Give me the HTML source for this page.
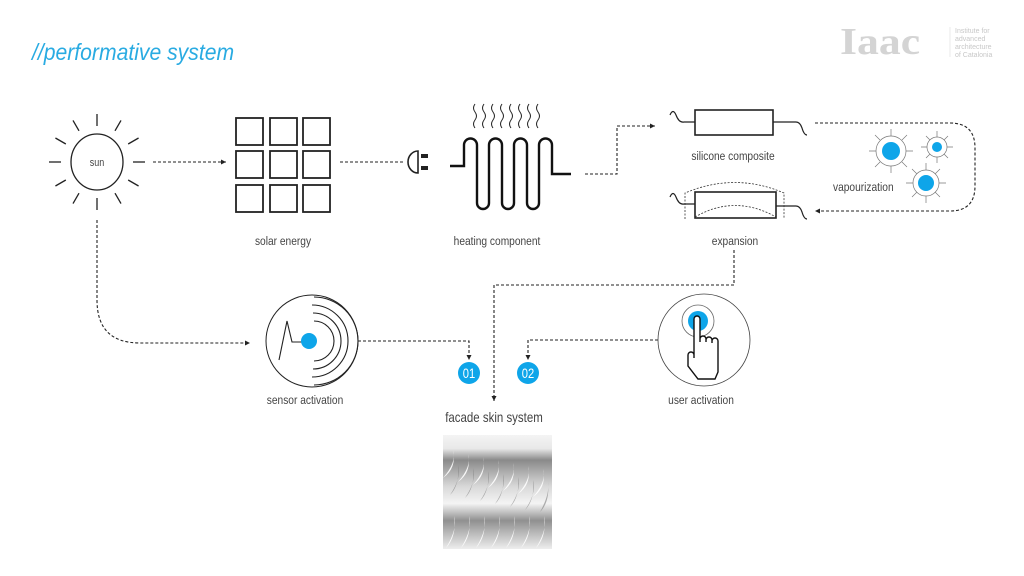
<!DOCTYPE html>
<html><head><meta charset="utf-8"><style>
html,body{margin:0;padding:0;background:#fff;width:1024px;height:576px;overflow:hidden}
svg{display:block}
text{font-family:"Liberation Sans",sans-serif;fill:#444}
</style></head><body>
<svg width="1024" height="576" viewBox="0 0 1024 576" xmlns="http://www.w3.org/2000/svg">
<defs>
<marker id="ah" markerWidth="6" markerHeight="6" refX="5" refY="3" orient="auto" markerUnits="userSpaceOnUse"><path d="M0,0.5 L5,3 L0,5.5z" fill="#222"/></marker>
<linearGradient id="g1" x1="0" y1="0" x2="0" y2="1">
<stop offset="0" stop-color="#f4f4f4"/><stop offset="0.12" stop-color="#e8e8e8"/><stop offset="0.22" stop-color="#8a8a8a"/><stop offset="0.45" stop-color="#d8d8d8"/><stop offset="0.6" stop-color="#f4f4f4"/><stop offset="0.68" stop-color="#c0c0c0"/><stop offset="0.75" stop-color="#909090"/><stop offset="1" stop-color="#eeeeee"/>
</linearGradient>
</defs>

<!-- title -->
<g transform="translate(32,60) scale(0.92,1)"><text x="0" y="0" style="font-size:23px;fill:#29abe2;font-style:italic">//performative system</text></g>

<!-- logo -->
<g transform="translate(840,54) scale(1.15,1)"><text x="0" y="0" style="font-family:'Liberation Serif',serif;font-size:38px;font-weight:bold;fill:#d4d4d4;letter-spacing:0px">Iaac</text></g>
<line x1="950" y1="27" x2="950" y2="57" stroke="#ddd" stroke-width="0.6"/>
<g style="font-size:7px">
<text x="955" y="33" style="fill:#c8c8c8">Institute for</text>
<text x="955" y="41" style="fill:#c8c8c8">advanced</text>
<text x="955" y="49" style="fill:#c8c8c8">architecture</text>
<text x="955" y="57" style="fill:#c8c8c8">of Catalonia</text>
</g>

<!-- sun -->
<ellipse cx="97" cy="162" rx="26" ry="28" fill="none" stroke="#222" stroke-width="1.3"/>
<g transform="translate(97,166) scale(0.82,1)"><text text-anchor="middle" style="font-size:11px">sun</text></g>
<g stroke="#222" stroke-width="1.3" transform="translate(97,162)">
<line x1="36" y1="0" x2="48" y2="0"/><line x1="-36" y1="0" x2="-48" y2="0"/>
<line x1="0" y1="-36" x2="0" y2="-48"/><line x1="0" y1="36" x2="0" y2="48"/>
<g transform="rotate(30)"><line x1="36" y1="0" x2="48" y2="0"/><line x1="-36" y1="0" x2="-48" y2="0"/><line x1="0" y1="-36" x2="0" y2="-48"/><line x1="0" y1="36" x2="0" y2="48"/></g>
<g transform="rotate(60)"><line x1="36" y1="0" x2="48" y2="0"/><line x1="-36" y1="0" x2="-48" y2="0"/><line x1="0" y1="-36" x2="0" y2="-48"/><line x1="0" y1="36" x2="0" y2="48"/></g>
</g>

<g fill="none" stroke="#222" stroke-width="1.1" stroke-dasharray="3,2">
<line x1="153" y1="162" x2="226" y2="162" marker-end="url(#ah)"/>
<line x1="340" y1="162" x2="403" y2="162"/>
<path d="M585,174 H617 V126 H655" marker-end="url(#ah)"/>
<path d="M815,123 H950 Q975,123 975,148 V186 Q975,211 950,211 H815" marker-end="url(#ah)"/>
<path d="M97,220 V300 Q97,343 140,343 H250" marker-end="url(#ah)"/>
<path d="M734,250 V285 H494 V401" marker-end="url(#ah)"/>
<path d="M358,341 H469 V360" marker-end="url(#ah)"/>
<path d="M658,340 H528 V360" marker-end="url(#ah)"/>
</g>

<!-- solar grid -->
<g fill="none" stroke="#222" stroke-width="1.8">
<rect x="236" y="118" width="27" height="27"/><rect x="270" y="118" width="27" height="27"/><rect x="303" y="118" width="27" height="27"/>
<rect x="236" y="151" width="27" height="27"/><rect x="270" y="151" width="27" height="27"/><rect x="303" y="151" width="27" height="27"/>
<rect x="236" y="185" width="27" height="27"/><rect x="270" y="185" width="27" height="27"/><rect x="303" y="185" width="27" height="27"/>
</g>
<g transform="translate(283,245) scale(0.85,1)"><text text-anchor="middle" style="font-size:12px">solar energy</text></g>

<!-- plug -->
<path d="M418,151 A10,11 0 0 0 418,173 Z" fill="none" stroke="#222" stroke-width="1.6"/>
<rect x="421" y="154" width="7" height="4" fill="#222"/><rect x="421" y="166" width="7" height="4" fill="#222"/>

<!-- heating coil -->
<path d="M450,166 H464 V145 A6.5,6.5 0 0 1 477,145 V203 A6,6 0 0 0 489,203 V145 A6.5,6.5 0 0 1 502,145 V203 A6,6 0 0 0 514,203 V145 A6.5,6.5 0 0 1 527,145 V203 A6,6 0 0 0 539,203 V145 A6.5,6.5 0 0 1 552,145 V174 H571" fill="none" stroke="#111" stroke-width="2.4"/>
<g fill="none" stroke="#222" stroke-width="1">
<path id="w" d="M475,104 q-3,4 0,8 q3,4 0,8 q-3,4 0,8"/>
<use href="#w" x="9"/><use href="#w" x="18"/><use href="#w" x="27"/><use href="#w" x="36"/><use href="#w" x="45"/><use href="#w" x="54"/><use href="#w" x="63"/>
</g>
<g transform="translate(497,245) scale(0.85,1)"><text text-anchor="middle" style="font-size:12px">heating component</text></g>

<!-- silicone -->
<rect x="695" y="110" width="78" height="25" fill="none" stroke="#222" stroke-width="1.6"/>
<path d="M670,115 q3,-7 6,0 q3,8 8,7 H695 M773,122 H796 q4,0 6,6 q2,7 5,7" fill="none" stroke="#222" stroke-width="1.2"/>
<g transform="translate(733,160) scale(0.85,1)"><text text-anchor="middle" style="font-size:12px">silicone composite</text></g>

<!-- expansion -->
<rect x="695" y="192" width="81" height="26" fill="none" stroke="#222" stroke-width="1.6"/>
<path d="M670,197 q3,-7 6,0 q3,8 8,7 H695 M776,206 H796 q4,0 6,6 q2,7 5,7" fill="none" stroke="#222" stroke-width="1.2"/>
<g fill="none" stroke="#333" stroke-width="0.8" stroke-dasharray="2,1.5">
<path d="M685,219 V193 Q735,172 784,193 V219"/>
<path d="M695,217 Q735,194 776,217"/>
</g>
<g transform="translate(735,245) scale(0.85,1)"><text text-anchor="middle" style="font-size:12px">expansion</text></g>

<!-- vapourization -->
<g stroke="#777" stroke-width="0.7" fill="none">
<circle cx="891" cy="151" r="15"/><circle cx="937" cy="147" r="10"/><circle cx="926" cy="183" r="13"/>
<g transform="translate(891,151)"><path d="M0,-15V-22M0,15V22M15,0H22M-15,0H-22M11,-11L16,-16M-11,-11L-16,-16M11,11L16,16M-11,11L-16,16"/></g>
<g transform="translate(937,147)"><path d="M0,-10V-16M0,10V16M10,0H16M-10,0H-16M7,-7L11,-11M-7,-7L-11,-11M7,7L11,11M-7,7L-11,11"/></g>
<g transform="translate(926,183)"><path d="M0,-13V-20M0,13V20M13,0H20M-13,0H-20M9,-9L14,-14M-9,-9L-14,-14M9,9L14,14M-9,9L-14,14"/></g>
</g>
<circle cx="891" cy="151" r="9" fill="#0ea5e9"/><circle cx="937" cy="147" r="5" fill="#0ea5e9"/><circle cx="926" cy="183" r="8" fill="#0ea5e9"/>
<g transform="translate(833,191) scale(0.85,1)"><text style="font-size:12px">vapourization</text></g>

<!-- sensor -->
<circle cx="312" cy="341" r="46" fill="none" stroke="#222" stroke-width="1"/>
<g fill="none" stroke="#222" stroke-width="1.1">
<path d="M279,360 L287,321 L292,342 H309"/>
<path d="M314,321 A20,20 0 0 1 314,361"/>
<path d="M313,313 A28,28 0 0 1 313,369"/>
<path d="M312,305 A36,36 0 0 1 312,377"/>
<path d="M314,297 A44,44 0 0 1 314,385"/>
</g>
<circle cx="309" cy="341" r="8" fill="#0ea5e9"/>
<g transform="translate(305,404) scale(0.85,1)"><text text-anchor="middle" style="font-size:12px">sensor activation</text></g>

<!-- badges -->
<circle cx="469" cy="373" r="11" fill="#0ea5e9"/><g transform="translate(469,378) scale(0.8,1)"><text text-anchor="middle" style="font-size:14px;fill:#fff">01</text></g>
<circle cx="528" cy="373" r="11" fill="#0ea5e9"/><g transform="translate(528,378) scale(0.8,1)"><text text-anchor="middle" style="font-size:14px;fill:#fff">02</text></g>

<!-- user -->
<circle cx="704" cy="340" r="46" fill="none" stroke="#444" stroke-width="0.8"/>
<circle cx="698" cy="321" r="16" fill="none" stroke="#666" stroke-width="0.8"/>
<circle cx="698" cy="321" r="10" fill="#0ea5e9"/>
<path d="M694,358 V319 a3,3 0 0 1 6,0 V342 V339 a3,3 0 0 1 6,0 V342 V340 a3,3 0 0 1 6,0 V343 V341 a3,3 0 0 1 6,0 V372 L715,379 H698 L688,366 V355 a3,3 0 0 1 6,0" fill="#fff" stroke="#111" stroke-width="1.4"/>
<g transform="translate(701,404) scale(0.85,1)"><text text-anchor="middle" style="font-size:12px">user activation</text></g>

<g transform="translate(494,422) scale(0.82,1)"><text text-anchor="middle" style="font-size:14px">facade skin system</text></g>

<!-- facade image -->
<rect x="443" y="435" width="109" height="114" fill="url(#g1)"/>
<g fill="#ffffff" opacity="0.9">
<path d="M443,478 q14,-16 10,-28 q4,18 -10,28z"/><path d="M458,482 q14,-16 10,-28 q4,18 -10,28z"/><path d="M473,485 q14,-16 10,-28 q4,18 -10,28z"/><path d="M488,488 q14,-16 10,-28 q4,18 -10,28z"/><path d="M503,491 q14,-16 10,-28 q4,18 -10,28z"/><path d="M518,494 q14,-16 10,-28 q4,18 -10,28z"/><path d="M533,497 q14,-16 10,-28 q4,18 -10,28z"/>
<path d="M446,548 q12,-20 8,-32 q3,20 -8,32z"/><path d="M461,548 q12,-20 8,-32 q3,20 -8,32z"/><path d="M476,548 q12,-20 8,-32 q3,20 -8,32z"/><path d="M491,548 q12,-20 8,-32 q3,20 -8,32z"/><path d="M506,548 q12,-20 8,-32 q3,20 -8,32z"/><path d="M521,548 q12,-20 8,-32 q3,20 -8,32z"/><path d="M536,548 q12,-20 8,-32 q3,20 -8,32z"/>
</g>
<g fill="#777" opacity="0.55">
<path d="M450,495 q12,-18 8,-30 q2,20 -8,30z"/><path d="M465,498 q12,-18 8,-30 q2,20 -8,30z"/><path d="M480,501 q12,-18 8,-30 q2,20 -8,30z"/><path d="M495,504 q12,-18 8,-30 q2,20 -8,30z"/><path d="M510,507 q12,-18 8,-30 q2,20 -8,30z"/><path d="M525,510 q12,-18 8,-30 q2,20 -8,30z"/><path d="M540,512 q10,-18 8,-30 q2,20 -8,30z"/>
</g>
</svg>
</body></html>
